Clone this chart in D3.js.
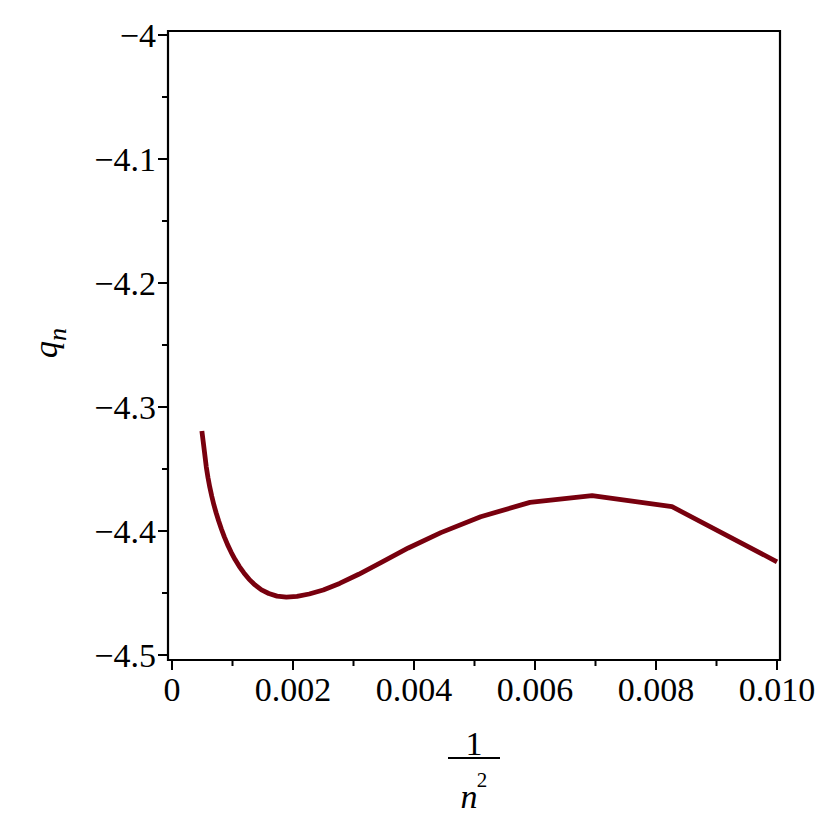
<!DOCTYPE html>
<html>
<head>
<meta charset="utf-8">
<script src="https://cdn.jsdelivr.net/npm/d3@7"></script>
<style>
html,body{margin:0;padding:0;background:#fff;}
svg{display:block;}
text{font-family:"Liberation Serif","Times New Roman",serif;fill:#000;}
</style>
</head>
<body>
<svg id="chart" width="830" height="830"></svg>
<script>
// n values (x = 1/n^2)
const nValues = [45,44,43,42,41,40,39,38,37,36,35,34,33,32,31,30,29,28,27,26,25,24,23,22,21,20,19,18,17,16,15,14,13,12,11,10];
// q_n values
const qValues = [-4.3194,-4.3282,-4.3379,-4.3484,-4.3570,-4.3648,-4.3720,-4.3790,-4.3855,-4.3920,-4.3984,-4.4047,-4.4110,-4.4170,-4.4228,-4.4285,-4.4338,-4.4390,-4.4435,-4.4475,-4.4504,-4.4525,-4.4534,-4.4528,-4.4508,-4.4476,-4.4423,-4.4349,-4.4254,-4.4137,-4.4013,-4.3885,-4.3769,-4.3715,-4.3804,-4.4248];
const xTicks = [0,0.002,0.004,0.006,0.008,0.010];
const xTickLabels = ["0","0.002","0.004","0.006","0.008","0.010"];
const xMinor = [0.001,0.003,0.005,0.007,0.009];
const yTicks = [-4,-4.1,-4.2,-4.3,-4.4,-4.5];
const yTickLabels = ["\u22124","\u22124.1","\u22124.2","\u22124.3","\u22124.4","\u22124.5"];
const yMinor = [-4.05,-4.15,-4.25,-4.35,-4.45];

const svg = d3.select("#chart");
const x = d3.scaleLinear().domain([0,0.01]).range([172,777]);
const y = d3.scaleLinear().domain([-4.5,-4]).range([655,35]);
const box = {l:168, r:780, t:31, b:660};
const fs = 34;

const data = nValues.map((n,i)=>({x:1/(n*n), q:qValues[i]}));

// box
svg.append("path")
  .attr("d", `M${box.l},${box.t}H${box.r}V${box.b}H${box.l}Z`)
  .attr("fill","none").attr("stroke","#000").attr("stroke-width",2.2);

// x ticks
const gx = svg.append("g");
gx.selectAll("line.maj").data(xTicks).join("line")
  .attr("x1",d=>x(d)).attr("x2",d=>x(d)).attr("y1",box.b).attr("y2",box.b+10)
  .attr("stroke","#000").attr("stroke-width",2);
gx.selectAll("line.min").data(xMinor).join("line")
  .attr("x1",d=>x(d)).attr("x2",d=>x(d)).attr("y1",box.b).attr("y2",box.b+6)
  .attr("stroke","#000").attr("stroke-width",2);
gx.selectAll("text").data(xTicks).join("text")
  .attr("x",d=>x(d)).attr("y",701).attr("text-anchor","middle")
  .attr("font-size",fs).text((d,i)=>xTickLabels[i]);

// y ticks
const gy = svg.append("g");
gy.selectAll("line.maj").data(yTicks).join("line")
  .attr("x1",box.l-10).attr("x2",box.l).attr("y1",d=>y(d)).attr("y2",d=>y(d))
  .attr("stroke","#000").attr("stroke-width",2);
gy.selectAll("line.min").data(yMinor).join("line")
  .attr("x1",box.l-6).attr("x2",box.l).attr("y1",d=>y(d)).attr("y2",d=>y(d))
  .attr("stroke","#000").attr("stroke-width",2);
gy.selectAll("text").data(yTicks).join("text")
  .attr("x",156).attr("y",d=>y(d)+12).attr("text-anchor","end")
  .attr("font-size",fs).text((d,i)=>yTickLabels[i]);

// curve
const line = d3.line().x(d=>x(d.x)).y(d=>y(d.q));
svg.append("path").datum(data).attr("d",line)
  .attr("fill","none").attr("stroke","#78000E").attr("stroke-width",4.8)
  .attr("stroke-linejoin","round");

// y label q_n (rotated)
const yl = svg.append("text").attr("transform","translate(57,358) rotate(-90)")
  .attr("font-size",fs);
yl.append("tspan").attr("font-style","italic").text("q");
yl.append("tspan").attr("font-style","italic").attr("font-size",26).attr("dy",9).text("n");

// x label fraction 1 / n^2
svg.append("text").attr("x",474).attr("y",755).attr("text-anchor","middle")
  .attr("font-size",fs).text("1");
svg.append("line").attr("x1",448).attr("x2",500).attr("y1",758).attr("y2",758)
  .attr("stroke","#000").attr("stroke-width",2);
svg.append("text").attr("x",469).attr("y",808).attr("text-anchor","middle")
  .attr("font-size",fs).attr("font-style","italic").text("n");
svg.append("text").attr("x",482).attr("y",787).attr("text-anchor","middle")
  .attr("font-size",21).text("2");
</script>
</body>
</html>
